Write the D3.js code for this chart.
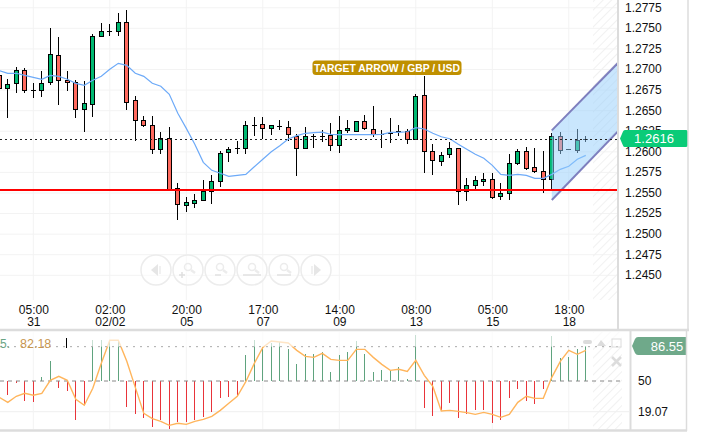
<!DOCTYPE html>
<html>
<head>
<meta http-equiv="content-type" content="text/html; charset=utf-8"/>
<title>GBP / USD</title>
<style type="text/css">
    body, html {width: 100%;height: 100%;overflow: hidden;margin:0;background:#fff;font-family:"Liberation Sans",Arial,sans-serif;}
    svg {display:block;}
    text {font-family:"Liberation Sans",Arial,sans-serif;}
</style>
<script src="https://cdnjs.cloudflare.com/ajax/libs/d3/7.8.5/d3.min.js"></script>
</head>
<body>
<div id="chart"></div>
<script>
// candles, oldest first
var opens = [1.26927,1.26760,1.26826,1.26984,1.26741,1.26741,1.26838,1.27166,1.26863,1.26838,1.26510,1.26571,1.27397,1.27458,1.27458,1.27567,1.26620,1.26377,1.26316,1.26024,1.26158,1.25546,1.25344,1.25368,1.25405,1.25514,1.25636,1.25988,1.26040,1.26036,1.26319,1.26328,1.26279,1.26307,1.26292,1.26186,1.26036,1.26182,1.26186,1.26194,1.26073,1.26255,1.26243,1.26364,1.26267,1.26207,1.26219,1.26243,1.26243,1.26146,1.26680,1.26000,1.25879,1.25964,1.26036,1.25514,1.25587,1.25636,1.25660,1.25453,1.25490,1.25854,1.26000,1.25806,1.25757,1.25660,1.26182,1.26024,1.26012,1.26146];
var highs = [1.26988,1.26875,1.27028,1.27016,1.26826,1.26972,1.27494,1.27385,1.26972,1.26863,1.26850,1.27421,1.27555,1.27543,1.27676,1.27713,1.26668,1.26425,1.26425,1.26231,1.26292,1.25611,1.25441,1.25478,1.25648,1.25708,1.26000,1.26049,1.26121,1.26364,1.26413,1.26413,1.26316,1.26377,1.26364,1.26207,1.26292,1.26207,1.26255,1.26340,1.26425,1.26377,1.26364,1.26437,1.26547,1.26255,1.26401,1.26316,1.26267,1.26692,1.26911,1.26085,1.25988,1.26109,1.26046,1.25672,1.25696,1.25733,1.25733,1.25611,1.25964,1.26024,1.26049,1.26036,1.26000,1.26219,1.26231,1.26024,1.26267,1.26182];
var lows = [1.26720,1.26405,1.26712,1.26712,1.26651,1.26663,1.26809,1.26566,1.26736,1.26408,1.26238,1.26420,1.27392,1.27404,1.27404,1.26502,1.26129,1.26292,1.25971,1.25971,1.25521,1.25165,1.25259,1.25315,1.25401,1.25356,1.25570,1.25866,1.25964,1.25971,1.26190,1.26146,1.26202,1.26255,1.26121,1.25704,1.26033,1.26044,1.26109,1.26000,1.25976,1.26219,1.26231,1.26255,1.26170,1.26044,1.26097,1.26190,1.26085,1.26137,1.25740,1.25716,1.25825,1.25915,1.25344,1.25393,1.25538,1.25575,1.25417,1.25405,1.25405,1.25830,1.25769,1.25740,1.25490,1.25538,1.25964,1.26024,1.25976,1.26109];
var closes = [1.26769,1.26814,1.26979,1.26741,1.26741,1.26826,1.27178,1.26863,1.26838,1.26510,1.26583,1.27397,1.27458,1.27458,1.27567,1.26595,1.26377,1.26316,1.26024,1.26158,1.25530,1.25356,1.25380,1.25405,1.25514,1.25636,1.25976,1.26024,1.26040,1.26316,1.26319,1.26279,1.26316,1.26307,1.26207,1.26036,1.26182,1.26182,1.26186,1.26073,1.26255,1.26279,1.26364,1.26279,1.26207,1.26207,1.26219,1.26243,1.26146,1.26668,1.26000,1.25891,1.25951,1.26036,1.25514,1.25587,1.25648,1.25660,1.25441,1.25490,1.25854,1.26000,1.25793,1.25757,1.25660,1.26182,1.26012,1.26024,1.26134,1.26146];
// moving average over the candles
var maValues = [1.26979,1.26948,1.26948,1.26923,1.26899,1.26875,1.26923,1.26911,1.26875,1.26826,1.26802,1.26863,1.26911,1.26996,1.27069,1.27045,1.26948,1.26911,1.26826,1.26790,1.26692,1.26462,1.26279,1.26085,1.25866,1.25769,1.25733,1.25696,1.25708,1.25720,1.25813,1.25903,1.25995,1.26068,1.26149,1.26190,1.26219,1.26226,1.26234,1.26207,1.26202,1.26202,1.26202,1.26202,1.26202,1.26207,1.26231,1.26231,1.26238,1.26287,1.26271,1.26219,1.26177,1.26153,1.26085,1.26024,1.25964,1.25915,1.25830,1.25720,1.25708,1.25720,1.25708,1.25672,1.25672,1.25720,1.25781,1.25818,1.25903,1.25951];
// oscillator panel
var oscLine = [33.5,28.5,34.6,37.6,35.6,37.6,50.7,54.7,50.7,31.5,25.5,42.6,67.8,91.0,91.0,69.8,43.6,17.4,12.1,9.4,5.3,7.4,6.3,9.4,11.4,14.4,20.4,27.5,34.6,49.3,67.8,83.9,90.3,89.3,88.3,80.9,74.8,73.8,77.9,71.8,70.8,70.8,81.9,81.9,73.8,66.8,60.7,61.8,59.7,70.8,55.7,44.6,19.8,20.4,19.4,18.1,16.4,18.4,16.4,13.4,16.4,28.5,34.6,32.5,32.5,53.7,69.8,80.9,76.9,80.9];
var oscBars = [50,35.6,48.3,29.5,28.5,53.7,69.8,42.6,39.6,10.4,25.5,91,91,91,91,23.5,16.4,12.4,3.3,10.4,1.3,8.4,8.4,10.4,13.4,18.4,32.5,33.5,34.9,75.9,91,84.6,87.9,89.6,81.9,66.8,76.9,76.9,78.9,58.7,75.9,78.9,90,76.9,58.7,60.7,60.7,63.8,51.7,96,22.5,14.4,20.4,27.5,12.4,16.4,20.4,20.4,7.4,10.4,32.5,41.6,29.5,26.5,41.6,95,72.8,73.8,81.9,84.9];
// axes
var priceTicks = [1.2775,1.275,1.2725,1.27,1.2675,1.265,1.2625,1.26,1.2575,1.255,1.2525,1.25,1.2475,1.245];
var timeIndex = [4,13,22,31,40,49,58,67];
var timeLabels = ["05:00","02:00","20:00","17:00","14:00","08:00","05:00","18:00"];
var dateLabels = ["31","02/02","05","07","09","13","15","18"];
var oscTicks = [50,19.07];
// drawings and levels
var supportLevel = 1.2553;
var channelIndex = [65,72.75];
var channelUpper = [1.26255,1.27069];
var channelLower = [1.25408,1.26238];
var lastPriceLabel = "1.2616";
var oscLastLabel = "86.55";
var oscHeaderLabel = "82.18";
var oscUpperLevel = 84.6;
var navCount = [0,1,2,3,4,5];

var width = 705, height = 434;
var svg = d3.select("#chart").append("svg").attr("width", width).attr("height", height);
var defs = svg.append("defs");

var x = d3.scaleLinear().domain([0, 69]).range([-0.7, 585.8]);
var y = d3.scaleLinear().domain([1.27, 1.245]).range([69, 274.8]);
var yOsc = d3.scaleLinear().domain([50, 19.07]).range([381, 411.7]);

defs.append("clipPath").attr("id", "mainClip").append("rect").attr("x", 0).attr("y", 0).attr("width", 617).attr("height", 300);
defs.append("clipPath").attr("id", "oscClip").append("rect").attr("x", 0).attr("y", 332).attr("width", 629).attr("height", 97);
var hatch = defs.append("pattern").attr("id", "hatch").attr("width", 6).attr("height", 6)
    .attr("patternUnits", "userSpaceOnUse").attr("patternTransform", "rotate(-45)");
hatch.append("line").attr("x1", 0).attr("y1", 0).attr("x2", 6).attr("y2", 0).attr("stroke", "#f1f1f1").attr("stroke-width", 2);

var gridColor = "#f3f3f3";
var main = svg.append("g").attr("clip-path", "url(#mainClip)");

// grid
main.selectAll("line.h").data(priceTicks).enter().append("line").attr("class", "h")
    .attr("x1", 0).attr("x2", 617).attr("y1", function (d) { return y(d) + .5; }).attr("y2", function (d) { return y(d) + .5; })
    .attr("stroke", gridColor).attr("stroke-width", 1);
main.selectAll("line.v").data(timeIndex).enter().append("line").attr("class", "v")
    .attr("x1", function (d) { return x(d); }).attr("x2", function (d) { return x(d); }).attr("y1", 0).attr("y2", 300)
    .attr("stroke", gridColor).attr("stroke-width", 1);
main.append("rect").attr("x", 593).attr("y", 0).attr("width", 24).attr("height", 300).attr("fill", "url(#hatch)");

// candles
var candleData = d3.range(opens.length);
main.selectAll("line.wick").data(candleData).enter().append("line").attr("class", "wick")
    .attr("x1", function (i) { return x(i); }).attr("x2", function (i) { return x(i); })
    .attr("y1", function (i) { return y(highs[i]); }).attr("y2", function (i) { return y(lows[i]); })
    .attr("stroke", "#000").attr("stroke-width", 1).attr("shape-rendering", "crispEdges");
main.selectAll("rect.body").data(candleData).enter().append("rect").attr("class", "body")
    .attr("x", function (i) { return x(i) - 2; }).attr("width", 4)
    .attr("y", function (i) { return y(Math.max(opens[i], closes[i])); })
    .attr("height", function (i) { return Math.max(0.4, Math.abs(y(opens[i]) - y(closes[i]))); })
    .attr("fill", function (i) { return closes[i] >= opens[i] ? "#00b871" : "#ff6a5e"; })
    .attr("stroke", "#000").attr("stroke-width", 1).attr("shape-rendering", "crispEdges");

// moving average
var maLine = d3.line().x(function (d, i) { return x(i); }).y(function (d) { return y(d); });
main.append("path").attr("d", maLine(maValues)).attr("fill", "none").attr("stroke", "#6daaf8").attr("stroke-width", 1.2);

// channel
var channelPts = [[channelIndex[0], channelUpper[0]], [channelIndex[1], channelUpper[1]], [channelIndex[1], channelLower[1]], [channelIndex[0], channelLower[0]]];
var channelPath = d3.line().x(function (d) { return x(d[0]); }).y(function (d) { return y(d[1]); });
main.append("path").attr("d", channelPath(channelPts) + "Z").attr("fill", "#93cdfb").attr("fill-opacity", .5);
main.append("path").attr("d", channelPath(channelPts.slice(0, 2))).attr("fill", "none").attr("stroke", "#7e7fbe").attr("stroke-width", 2);
main.append("path").attr("d", channelPath(channelPts.slice(2))).attr("fill", "none").attr("stroke", "#7e7fbe").attr("stroke-width", 2);

// support and last price
main.append("line").attr("x1", 0).attr("x2", 617).attr("y1", y(supportLevel)).attr("y2", y(supportLevel)).attr("stroke", "#f00").attr("stroke-width", 2).attr("shape-rendering", "crispEdges");
main.append("line").attr("x1", 0).attr("x2", 617).attr("y1", y(closes[closes.length - 1])).attr("y2", y(closes[closes.length - 1]))
    .attr("stroke", "#222").attr("stroke-width", 1).attr("stroke-dasharray", "2,3").attr("shape-rendering", "crispEdges");

// nav buttons, faded like the source
var nav = svg.append("g").attr("fill", "none").attr("stroke", "#ececec").attr("stroke-width", 1.5);
nav.selectAll("g").data(navCount).enter().append("g")
    .attr("transform", function (d) { return "translate(" + (156 + d * 32) + ",270)"; })
    .each(function (d) {
        var g = d3.select(this);
        g.append("circle").attr("r", 15).attr("fill", "#fff").attr("fill-opacity", .5);
        if (d === 0 || d === 5) {
            var s = d === 0 ? 1 : -1;
            g.append("path").attr("d", "M" + (-5 * s) + " 0L" + (2 * s) + " -6V6Z").attr("fill", "#e6e6e6").attr("stroke", "none");
            g.append("line").attr("x1", 4 * s).attr("x2", 4 * s).attr("y1", -4).attr("y2", 4);
        } else {
            g.append("circle").attr("cx", 0).attr("cy", -3).attr("r", 3.5);
            g.append("line").attr("x1", 3).attr("y1", 0).attr("x2", 7).attr("y2", 3).attr("stroke-width", 2.5);
            g.append("path").attr("d", d === 1 ? "M-9 5H-3M-6 2V8" : d === 2 ? "M-5 5H1" : d === 3 ? "M-9 5H9" : "M-7 5H7").attr("stroke", "#e0e0e0");
        }
    });

// annotation
svg.append("rect").attr("x", 312.5).attr("y", 60.5).attr("width", 149).attr("height", 14.5).attr("rx", 3.5).attr("fill", "#bf9000");
svg.append("text").attr("x", 387).attr("y", 72).attr("text-anchor", "middle").attr("fill", "#fff")
    .attr("font-size", 11).attr("font-weight", "bold")
    .attr("textLength", 146).attr("lengthAdjust", "spacingAndGlyphs").text("TARGET ARROW / GBP / USD");

// time axis
var xAxis = d3.axisBottom(x).tickValues(timeIndex).tickSize(0).tickPadding(0)
    .tickFormat(function (d, i) { return timeLabels[i]; });
var xg = svg.append("g").attr("transform", "translate(0,304)").call(xAxis);
xg.select(".domain").remove();
xg.selectAll("text").attr("font-size", 12).attr("fill", "#111").attr("dy", 10);
xg.selectAll(".tick").append("text").attr("text-anchor", "middle").attr("y", 21.5).attr("font-size", 12).attr("fill", "#111")
    .text(function (d, i) { return dateLabels[i]; });

// price axis
var yAxis = d3.axisRight(y).tickValues(priceTicks).tickSize(0).tickPadding(0).tickFormat(d3.format(".4f"));
var yg = svg.append("g").attr("transform", "translate(625,0)").call(yAxis);
yg.select(".domain").remove();
yg.selectAll("text").attr("font-size", 12).attr("fill", "#111");

// last price tag
svg.append("path").attr("d", "M620 138.5L623 131.5Q623.5 130 625 130H686Q688 130 688 132V145Q688 147 686 147H625Q623.5 147 623 145.5Z").attr("fill", "#0acb78");
svg.append("text").attr("x", 654).attr("y", 143).attr("text-anchor", "middle").attr("fill", "#fff").attr("font-size", 13).text(lastPriceLabel);

// oscillator panel
var osc = svg.append("g").attr("clip-path", "url(#oscClip)");
osc.append("line").attr("x1", 0).attr("x2", 629).attr("y1", yOsc(19.07)).attr("y2", yOsc(19.07)).attr("stroke", "#efefef");
osc.selectAll("line.v").data(timeIndex).enter().append("line").attr("class", "v")
    .attr("x1", function (d) { return x(d); }).attr("x2", function (d) { return x(d); }).attr("y1", 332).attr("y2", 430)
    .attr("stroke", gridColor);
osc.append("rect").attr("x", 593).attr("y", 332).attr("width", 29).attr("height", 98).attr("fill", "url(#hatch)");
osc.selectAll("line.bar").data(oscBars).enter().append("line").attr("class", "bar")
    .attr("x1", function (d, i) { return x(i); }).attr("x2", function (d, i) { return x(i); })
    .attr("y1", yOsc(50)).attr("y2", function (d) { return yOsc(d); })
    .attr("stroke", function (d) { return d >= 50 ? "#5fa37e" : "#e8343a"; }).attr("stroke-width", 1).attr("shape-rendering", "crispEdges");
osc.append("line").attr("x1", 0).attr("x2", 622).attr("y1", yOsc(50)).attr("y2", yOsc(50))
    .attr("stroke", "#888").attr("stroke-dasharray", "4,4");
var oscPath = d3.line().x(function (d, i) { return x(i); }).y(function (d) { return yOsc(d); });
osc.append("path").attr("d", oscPath(oscLine)).attr("fill", "none").attr("stroke", "#ffb55c").attr("stroke-width", 1.4);
// everything above the upper level is washed out
osc.append("rect").attr("x", 0).attr("y", 332).attr("width", 622).attr("height", yOsc(oscUpperLevel) - 332).attr("fill", "#fff").attr("fill-opacity", .65);
osc.append("line").attr("x1", 0).attr("x2", 622).attr("y1", yOsc(oscUpperLevel)).attr("y2", yOsc(oscUpperLevel))
    .attr("stroke", "#aaa").attr("stroke-dasharray", "2,5");

// panel header
svg.append("text").attr("x", 0).attr("y", 348).attr("font-size", 12).attr("fill", "#6aa584").text("5.");
svg.append("text").attr("x", 20).attr("y", 348).attr("font-size", 12.5).attr("fill", "#c8964f").text(oscHeaderLabel);
svg.append("line").attr("x1", 66.5).attr("x2", 66.5).attr("y1", 338).attr("y2", 348).attr("stroke", "#000");

// panel icons
var icons = svg.append("g").attr("fill", "#dcdcdc");
icons.append("rect").attr("x", 583).attr("y", 340).attr("width", 9).attr("height", 4).attr("rx", 2);
icons.append("path").attr("d", "M597 346L601 340L606 346Z");
icons.append("rect").attr("x", 612).attr("y", 339).attr("width", 9).attr("height", 8).attr("fill", "none").attr("stroke", "#dcdcdc");
icons.append("path").attr("d", "M612 357L621 366M621 357L612 366").attr("stroke", "#dcdcdc").attr("stroke-width", 2.5);

// oscillator axis
var oscAxis = d3.axisRight(yOsc).tickValues(oscTicks).tickSize(0).tickPadding(0).tickFormat(function (d) { return d; });
var og = svg.append("g").attr("transform", "translate(638,0)").call(oscAxis);
og.select(".domain").remove();
og.selectAll("text").attr("font-size", 12).attr("fill", "#111");
svg.append("path").attr("d", "M632 346L635 339Q636 337 638 337H686V355H638Q636 355 635 353Z").attr("fill", "#6fa98a");
svg.append("text").attr("x", 667).attr("y", 351).attr("text-anchor", "middle").attr("fill", "#fff").attr("font-size", 13).text(oscLastLabel);

// panel borders
var border = "#dcdcdc";
function rule(x1, y1, x2, y2, w) {
    svg.append("line").attr("x1", x1).attr("y1", y1).attr("x2", x2).attr("y2", y2).attr("stroke", border).attr("stroke-width", w);
}
rule(618, 0, 618, 330, 2);
rule(688, 0, 688, 330, 1.5);
rule(0, 330, 689, 330, 2.5);
rule(630.5, 330, 630.5, 431, 2);
rule(686.5, 330, 686.5, 431, 1.5);
rule(0, 430.5, 687, 430.5, 2.5);
</script>
</body>
</html>
